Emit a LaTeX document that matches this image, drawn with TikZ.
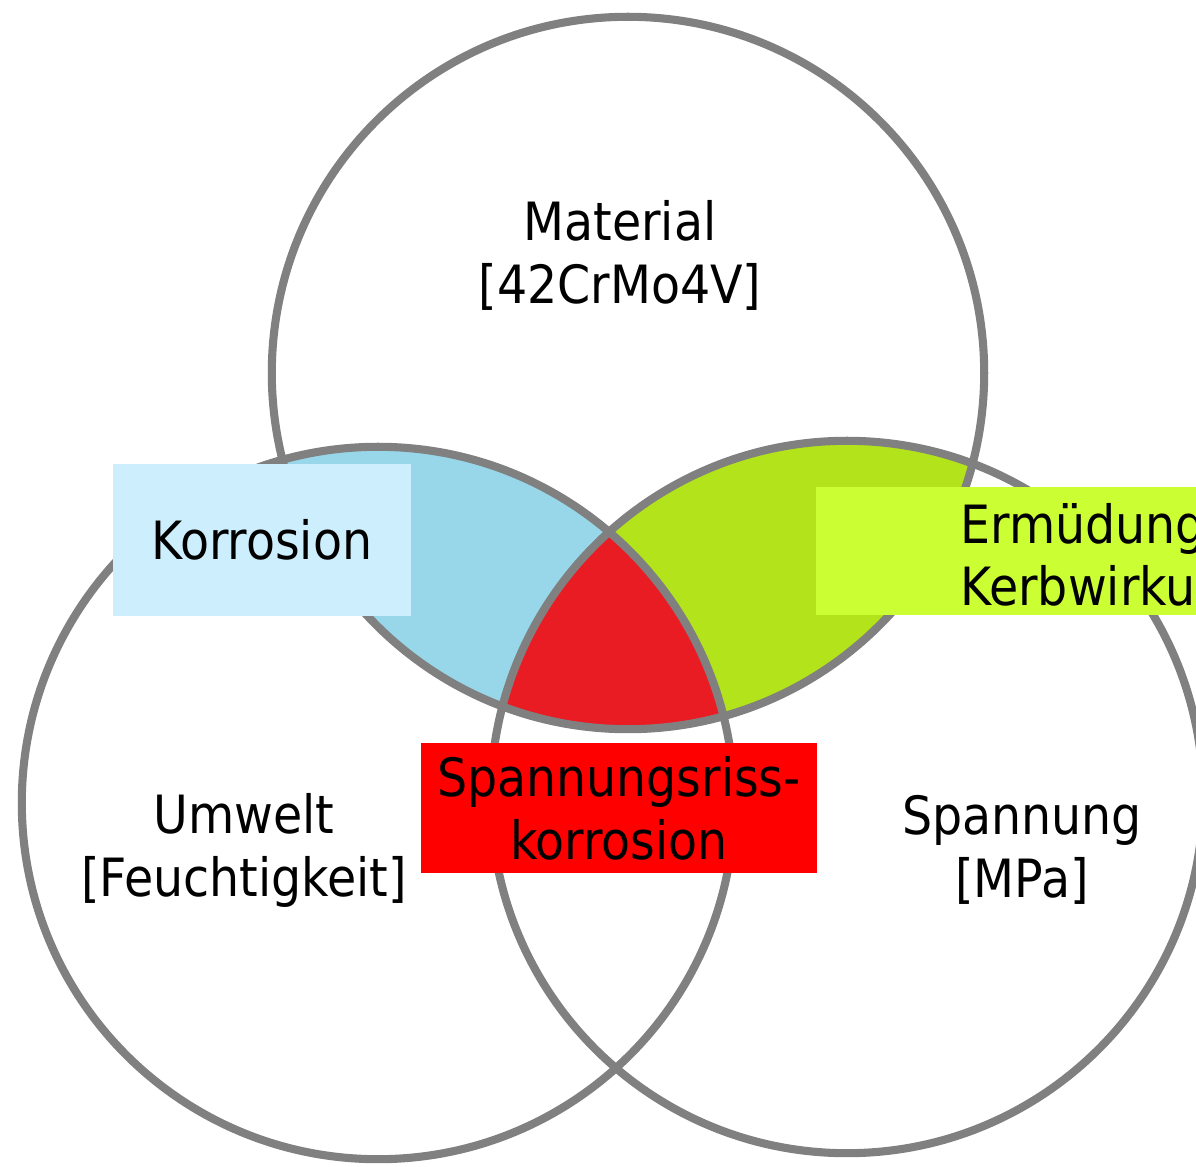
\documentclass[tikz,border=0pt]{standalone}
\usepackage{fontspec}
\setmainfont{DejaVu Sans Condensed}
\usepackage{tikz}
\usetikzlibrary{positioning}

\definecolor{ringgray}{HTML}{808080}
\definecolor{lensblue}{HTML}{97D7E9}
\definecolor{lensgreen}{HTML}{B3E31B}
\definecolor{lensred}{HTML}{E91C24}
\definecolor{tagblue}{HTML}{CDEEFD}
\definecolor{taglime}{HTML}{CCFF33}
\definecolor{tagred}{HTML}{FF0000}

\begin{document}
\begin{tikzpicture}[
      x=0.01cm, y=-0.01cm,
      font=\fontsize{15pt}{17.9pt}\selectfont,
      ring/.style={draw=ringgray, line width=2.3pt},
      tagbox/.style={inner sep=0pt, align=center},
      caption/.style={align=center},
    ]
      \useasboundingbox (0,0) rectangle (1196,1167);
      \clip (0,0) rectangle (1196,1167);
      \fill[white] (0,0) rectangle (1196,1167);

      % circle centres
      \coordinate (mat) at (628,373);
      \coordinate (env) at (378,803);
      \coordinate (load) at (847,797);

      % overlaps
      \begin{scope}
        \clip (mat) circle[radius=3.56cm];
        \fill[lensblue] (env) circle[radius=3.56cm];
        \fill[lensgreen] (load) circle[radius=3.56cm];
        \clip (env) circle[radius=3.56cm];
        \fill[lensred] (load) circle[radius=3.56cm];
      \end{scope}

      \draw[ring] (mat) circle[radius=3.56cm];
      \draw[ring] (env) circle[radius=3.56cm];
      \draw[ring] (load) circle[radius=3.56cm];

      % texts in the circles
      \node[caption] (matlabel) at (620,255) {Material\\{}[42CrMo4V]};
      \node[caption] (envlabel) at (244,850) {Umwelt\\{}[Feuchtigkeit]};
      \node[caption] (loadlabel) at (1022,850) {Spannung\\{}[MPa]};

      % boxes for the overlaps
      \node[tagbox, fill=tagblue, minimum width=2.98cm, minimum height=1.51cm] (corr) at (262,540) {Korrosion};
      \node[tagbox, fill=taglime, anchor=west, minimum width=4.2cm, minimum height=1.28cm] (fat) at (815,551) {};
      \node[caption, anchor=base west, align=left, inner sep=0pt] (fattext) at (960,606) {Ermüdung\\Kerbwirkung};
      \node[tagbox, fill=tagred, minimum width=3.96cm, minimum height=1.29cm] (scc) at (619,808) {Spannungsriss-\\korrosion};
    \end{tikzpicture}
\end{document}
